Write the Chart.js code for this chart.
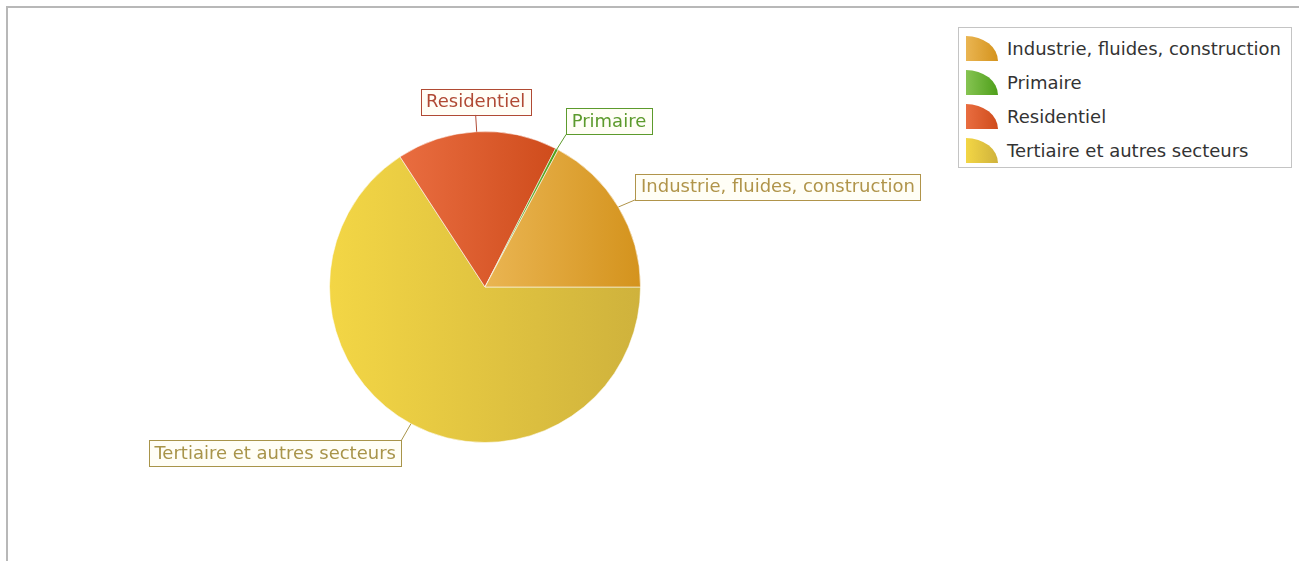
<!DOCTYPE html>
<html>
<head>
<meta charset="utf-8">
<script src="https://cdn.jsdelivr.net/npm/chart.js@4/dist/chart.umd.min.js"></script>
<style>
    body { margin: 0; background: #fff; font-family: "DejaVu Sans", sans-serif; }
    #wrap { position: relative; width: 1299px; height: 561px; overflow: hidden; }
    #frame { position: absolute; left: 6px; top: 6px; width: 1400px; height: 600px;
             border-left: 2px solid #b8b8b8; border-top: 2px solid #b8b8b8; }
    #PieChart { position: absolute; left: 0; top: 0; }
    #legend { position: absolute; left: 958px; top: 27px; width: 334px; height: 141px;
              border: 1px solid #c4c4c4; background: #fff; box-sizing: border-box; padding-top: 3px; }
    .item { height: 34px; display: flex; align-items: center; font-size: 18px; color: #333; }
    .icon { width: 32px; height: 25px; margin: 0 9px 0 7px; border-top-right-radius: 100% 100%; }
</style>
</head>
<body>
<div id="wrap">
    <div id="frame"></div>
    <canvas id="PieChart" width="1299" height="561"></canvas>
    <div id="legend"></div>
</div>
<script>
const categories = ["Industrie, fluides, construction", "Primaire", "Residentiel", "Tertiaire et autres secteurs"];
const values = [17.2, 0.3, 16.7, 65.8];
const lightColors = ["#eab552", "#86c452", "#e96d40", "#f3d645"];
const darkColors = ["#d4931d", "#4e9f1a", "#cf4c1c", "#cfb23c"];
const labelColors = ["#b0944a", "#5c9a2c", "#b04a34", "#a8944a"];

const ItemChart = document.getElementById("PieChart");

// legend built from the arrays
const legendBox = document.getElementById("legend");
categories.forEach((name, i) => {
    const row = document.createElement("div");
    row.className = "item";
    row.innerHTML = `<span class="icon" style="background: linear-gradient(to right, ${lightColors[i]}, ${darkColors[i]})"></span>${name}`;
    legendBox.appendChild(row);
});

// chart.js draws clockwise from the start angle, the original goes the other way
const order = categories.map((c, i) => i).reverse();

// horizontal gradient per slice, across its own width
const sliceGradient = {
    id: "sliceGradient",
    beforeDatasetsDraw(chart) {
        const ctx = chart.ctx;
        chart.getDatasetMeta(0).data.forEach((arc, j) => {
            const i = order[j];
            const p = arc.getProps(["x", "y", "startAngle", "endAngle", "outerRadius"]);
            let minX = p.x, maxX = p.x;
            for (let k = 0; k <= 40; k++) {
                const a = p.startAngle + (p.endAngle - p.startAngle) * k / 40;
                const x = p.x + p.outerRadius * Math.cos(a);
                minX = Math.min(minX, x);
                maxX = Math.max(maxX, x);
            }
            if (maxX - minX < 1) maxX = minX + 1;
            const g = ctx.createLinearGradient(minX, 0, maxX, 0);
            g.addColorStop(0, lightColors[i]);
            g.addColorStop(1, darkColors[i]);
            arc.options.backgroundColor = g;
        });
    }
};

// boxed labels with a leader line
const boxLabels = {
    id: "boxLabels",
    afterDatasetsDraw(chart) {
        const ctx = chart.ctx;
        ctx.save();
        ctx.font = '18px "DejaVu Sans", sans-serif';
        ctx.textBaseline = "middle";
        chart.getDatasetMeta(0).data.forEach((arc, j) => {
            const i = order[j];
            const p = arc.getProps(["x", "y", "startAngle", "endAngle", "outerRadius"]);
            const mid = (p.startAngle + p.endAngle) / 2;
            const c = Math.cos(mid), s = Math.sin(mid);
            const sx = p.x + p.outerRadius * c, sy = p.y + p.outerRadius * s;
            const ex = p.x + (p.outerRadius + 20) * c, ey = p.y + (p.outerRadius + 20) * s;
            const text = categories[i];
            const w = ctx.measureText(text).width + 11, h = 26;
            let bx, by;
            if (Math.abs(c) < 0.25) bx = ex - w / 2;
            else if (c > 0) bx = ex;
            else bx = ex - w;
            by = s < 0 ? ey + 3 - h : ey - 1;
            ctx.strokeStyle = labelColors[i];
            ctx.lineWidth = 1;
            ctx.beginPath();
            ctx.moveTo(sx, sy);
            ctx.lineTo(ex, s < 0 ? ey + 3 : ey - 1);
            ctx.stroke();
            ctx.fillStyle = "#fffef6";
            ctx.fillRect(bx, by, w, h);
            ctx.strokeRect(Math.round(bx) + 0.5, Math.round(by) + 0.5, Math.round(w), h);
            ctx.fillStyle = labelColors[i];
            ctx.fillText(text, bx + 5.5, by + h / 2 + 1);
        });
        ctx.restore();
    }
};

new Chart(ItemChart, {
    type: "pie",
    data: {
        labels: order.map((i) => categories[i]),
        datasets: [
            {
                data: order.map((i) => values[i]),
                backgroundColor: order.map((i) => darkColors[i]),
                borderColor: "rgba(255,255,255,0.55)",
                borderWidth: 1,
            },
        ],
    },
    options: {
        responsive: false,
        animation: false,
        rotation: 90,
        layout: {
            padding: { left: 329, right: 658, top: 131, bottom: 118 },
        },
        plugins: {
            legend: { display: false },
            tooltip: { enabled: false },
        },
    },
    plugins: [sliceGradient, boxLabels],
});
</script>
</body>
</html>
